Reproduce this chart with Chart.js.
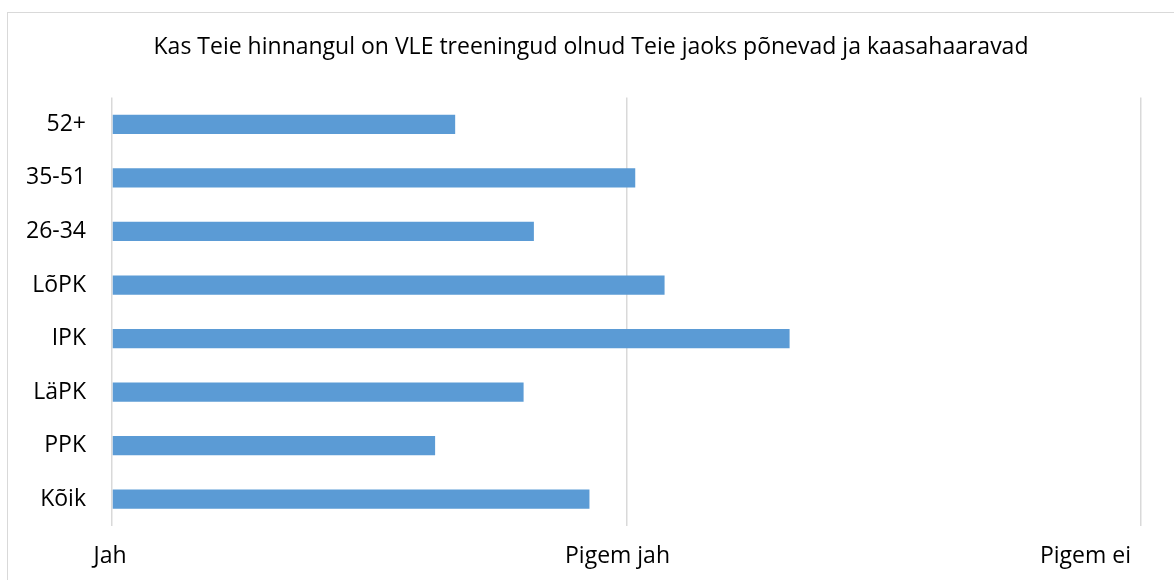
<!DOCTYPE html>
<html>
<head>
<meta charset="utf-8">
<script src="https://cdn.jsdelivr.net/npm/chart.js@4.4.0/dist/chart.umd.min.js"></script>
<style>
  html, body { margin: 0; padding: 0; background: #fff; overflow: hidden; }
  #wrap { position: relative; width: 1174px; height: 580px; }
  #frame { position: absolute; left: 7px; top: 12px; width: 1200px; height: 600px; border: 1px solid #d9d9d9; }
  #chart { position: absolute; left: 0; top: 0; }
</style>
</head>
<body>
<div id="wrap">
  <div id="frame"></div>
  <canvas id="chart" width="1174" height="580"></canvas>
</div>
<script>
// andmed
const kategooriad = ['52+', '35-51', '26-34', 'LõPK', 'IPK', 'LäPK', 'PPK', 'Kõik'];
const hinnangud = [1.667, 2.017, 1.82, 2.074, 2.317, 1.80, 1.628, 1.928];
const skaalaSildid = ['Jah', 'Pigem jah', 'Pigem ei'];
const pealkiri = 'Kas Teie hinnangul on VLE treeningud olnud Teie jaoks põnevad ja kaasahaaravad';

const FONT = "'Open Sans', 'DejaVu Sans', sans-serif";
const FSIZE = 23;

// x-telje sildid joonistame ise, sest Excel paigutab viimase sildi vasakule
const xSildid = {
    id: 'xSildid',
    afterDraw(chart) {
        const ctx = chart.ctx;
        const x = chart.scales.x;
        ctx.save();
        ctx.font = FSIZE + 'px ' + FONT;
        ctx.fillStyle = '#000';
        ctx.textBaseline = 'middle';
        skaalaSildid.forEach((s, i) => {
            const px = x.getPixelForValue(i + 1);
            if (i === skaalaSildid.length - 1) {
                ctx.textAlign = 'right';
                ctx.fillText(s, px - 10, 556);
            } else {
                ctx.textAlign = 'center';
                ctx.fillText(s, px - (i === 0 ? 2 : 9), 556);
            }
        });
        ctx.restore();
    }
};

new Chart(document.getElementById('chart'), {
    type: 'bar',
    data: {
        labels: kategooriad,
        datasets: [{
            data: hinnangud,
            base: 1,
            backgroundColor: '#5b9bd5',
            borderWidth: 0,
            barPercentage: 0.6,
            categoryPercentage: 0.6
        }]
    },
    options: {
        indexAxis: 'y',
        responsive: false,
        animation: false,
        layout: { padding: { left: 8, right: 0, top: 0, bottom: 0 } },
        plugins: {
            legend: { display: false },
            tooltip: { enabled: false },
            title: {
                display: true,
                text: pealkiri,
                color: '#000',
                font: { family: FONT, size: FSIZE, weight: '400' },
                padding: { top: 34, bottom: 36 }
            }
        },
        scales: {
            x: {
                min: 1,
                max: 3,
                ticks: { display: false, stepSize: 1 },
                grid: { color: '#d9d9d9', lineWidth: 1.5, drawTicks: false },
                border: { display: false },
                afterFit(scale) { scale.height = 54; }
            },
            y: {
                ticks: {
                    color: '#000',
                    font: { family: FONT, size: FSIZE },
                    padding: 26
                },
                grid: { display: false, drawTicks: false },
                border: { display: false },
                afterFit(scale) { scale.width = 104; }
            },
            // tühi parem telg, et jätta paremale ruumi
            yParem: {
                type: 'category',
                position: 'right',
                ticks: { display: false },
                grid: { display: false, drawTicks: false },
                border: { display: false },
                afterFit(scale) { scale.width = 33; }
            }
        }
    },
    plugins: [xSildid]
});
</script>
</body>
</html>
